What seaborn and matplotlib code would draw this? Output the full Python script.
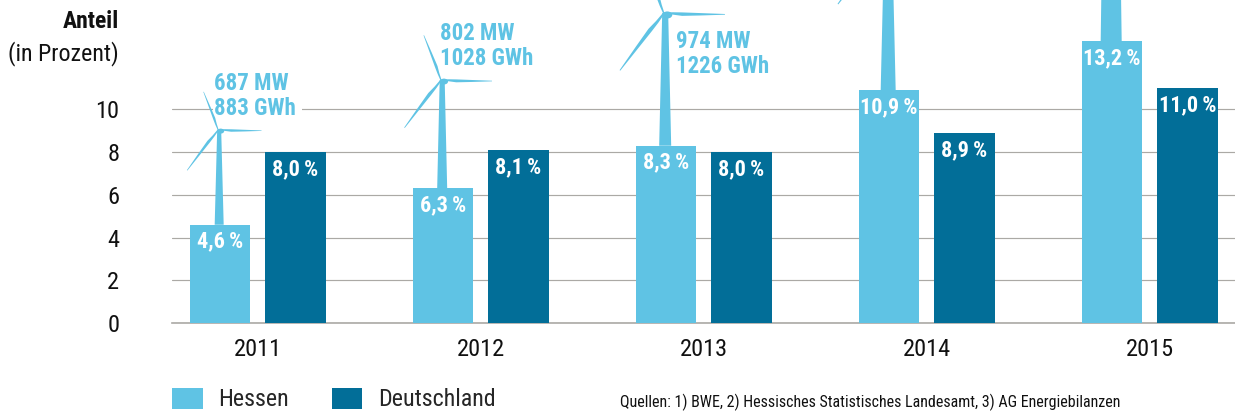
import numpy as np
import pandas as pd
import matplotlib
matplotlib.use("Agg")
import matplotlib.pyplot as plt
from matplotlib import font_manager as fm
from matplotlib.patches import Ellipse
import seaborn as sns

years = ["2011", "2012", "2013", "2014", "2015"]
hessen = [4.6, 6.3, 8.3, 10.9, 13.2]
deutschland = [8.0, 8.1, 8.0, 8.9, 11.0]
series_names = ["Hessen", "Deutschland"]
capacity_labels = ["687 MW\n883 GWh", "802 MW\n1028 GWh", "974 MW\n1226 GWh"]
yticks = [0, 2, 4, 6, 8, 10]
source_text = "Quellen: 1) BWE, 2) Hessisches Statistisches Landesamt, 3) AG Energiebilanzen"

# turbine decoration: hub height on the y scale, blade length and tower width in pixels
hub_heights = [9.04, 11.37, 14.5, 17.9, 21.5]
blade_px = [51, 60, 72, 80, 100]
tower_top_px = [4, 5, 6, 8, 16]
tower_base_px = [9, 10, 12, 15, 21]

LIGHT = "#5FC3E4"
DARK = "#026E98"
GRID = "#ABA9A5"
W, H = 1235, 412

sns.set_theme(style="white")
names = {f.name for f in fm.fontManager.ttflist}
narrow = next((n for n in ("Roboto Condensed", "Liberation Sans Narrow", "Roboto") if n in names), "DejaVu Sans")
plt.rcParams["font.family"] = [narrow, "DejaVu Sans"]

df = pd.DataFrame({
    "Jahr": years * 2,
    "Anteil": hessen + deutschland,
    "Serie": [series_names[0]] * 5 + [series_names[1]] * 5,
})

fig = plt.figure(figsize=(W / 100, H / 100), dpi=100)
ax = fig.add_axes([172 / W, (H - 323) / H, (W - 172) / W, 323 / H])
sns.barplot(data=df, x="Jahr", y="Anteil", hue="Serie", palette=[LIGHT, DARK],
            width=0.677, gap=0.2, saturation=1, ax=ax, errorbar=None, zorder=3,
            linewidth=0, edgecolor="none")

PX_PER_UNIT = 21.36
X0 = -0.384
ax.set_xlim(X0, X0 + (W - 172) / 223)
ax.set_ylim(0, 323 / PX_PER_UNIT)
ax.set_yticks(yticks)
ax.set_xlabel("")
ax.set_ylabel("")
ax.yaxis.grid(True, color=GRID, lw=0.85, zorder=0)
ax.xaxis.grid(False)
ax.set_axisbelow(True)
for s in ["top", "left", "right"]:
    ax.spines[s].set_visible(False)
ax.spines["bottom"].set_color(GRID)
ax.spines["bottom"].set_linewidth(1.2)
ax.tick_params(axis="y", length=0, pad=38, labelsize=17.6, labelcolor="#111111")
ax.tick_params(axis="x", length=0, pad=11, labelsize=17.6, labelcolor="#111111")

dx = 1 / 223
dy = 1 / PX_PER_UNIT
BAR_OFF = 37.75 / 223
BLADES = [(-1, 0.85), (232.5, 1.0), (111, 0.8)]

def blade(xh, yh, L, angle):
    """Tapered blade outline, length L px, from the hub, angle in degrees."""
    u = np.array([0, .15, .3, .6, 1, 1, .6, .3, .15, 0])
    v = np.array([-.6, -1.0, -1.9, -1.3, -.3, .3, .7, 1.0, 1.0, .6]) * L / 51
    a = np.radians(angle)
    px = u * L * np.cos(a) - v * np.sin(a)
    py = u * L * np.sin(a) + v * np.cos(a)
    ax.fill(xh + px * dx, yh + py * dy, color=LIGHT, lw=0, zorder=4, clip_on=False)

for i in range(5):
    xc = i - BAR_OFF - 0.7 * dx
    base = hessen[i]
    hub = hub_heights[i]
    tt, tb = tower_top_px[i] / 2 * dx, tower_base_px[i] / 2 * dx
    ax.fill([xc - tb, xc - tt, xc + tt, xc + tb], [base, hub, hub, base],
            color=LIGHT, lw=0, zorder=4, clip_on=False)
    L = blade_px[i]
    xh = xc - L / 51 * 1.0 * dx
    for angle, frac in BLADES:
        blade(xh, hub, L * frac, angle)
    r = L / 51
    ax.add_patch(Ellipse((xh + 2.5 * r * dx, hub - 1.2 * r * dy), 7 * r * dx, 5 * r * dy,
                         angle=0, color=LIGHT, lw=0, zorder=4, clip_on=False))

fmt = lambda v: f"{v:.1f}".replace(".", ",") + "\u2009%"
for i in range(5):
    for off, vals in ((-BAR_OFF, hessen), (BAR_OFF, deutschland)):
        ax.text(i + off, vals[i] - 17 * dy, fmt(vals[i]), ha="center", va="center",
                color="white", fontsize=16, fontweight="bold", zorder=6)

label_px = [(214, 96), (440, 46), (676, 54)]
for txt, (x, y) in zip(capacity_labels, label_px):
    fig.text(x / W, 1 - y / H, txt, ha="left", va="center", color=LIGHT,
             fontsize=16.5, fontweight="bold", linespacing=1.12, zorder=7)

# white gap in the 10-line behind "883 GWh"
ax.hlines(10, (213 - 172) / 223 + X0, (302 - 172) / 223 + X0, color="white", lw=3, zorder=1.5)

fig.text(119 / W, 1 - 22 / H, "Anteil", ha="right", va="center", fontsize=17,
         fontweight="bold", color="#111111")
fig.text(119 / W, 1 - 54 / H, "(in Prozent)", ha="right", va="center", fontsize=17.3,
         color="#111111")

handles, labels = ax.get_legend_handles_labels()
ax.legend(handles, labels, loc="lower left", bbox_to_anchor=(172 / W, 0.5 / H),
          bbox_transform=fig.transFigure, ncol=2, frameon=False, fontsize=17.3,
          handlelength=1.27, handleheight=0.95, handletextpad=0.65,
          columnspacing=1.78, borderpad=0, borderaxespad=0)
fig.text(620 / W, 1 - 402 / H, source_text, ha="left", va="center", fontsize=11.5,
         color="#111111")

fig.savefig("out.png", dpi=100)
